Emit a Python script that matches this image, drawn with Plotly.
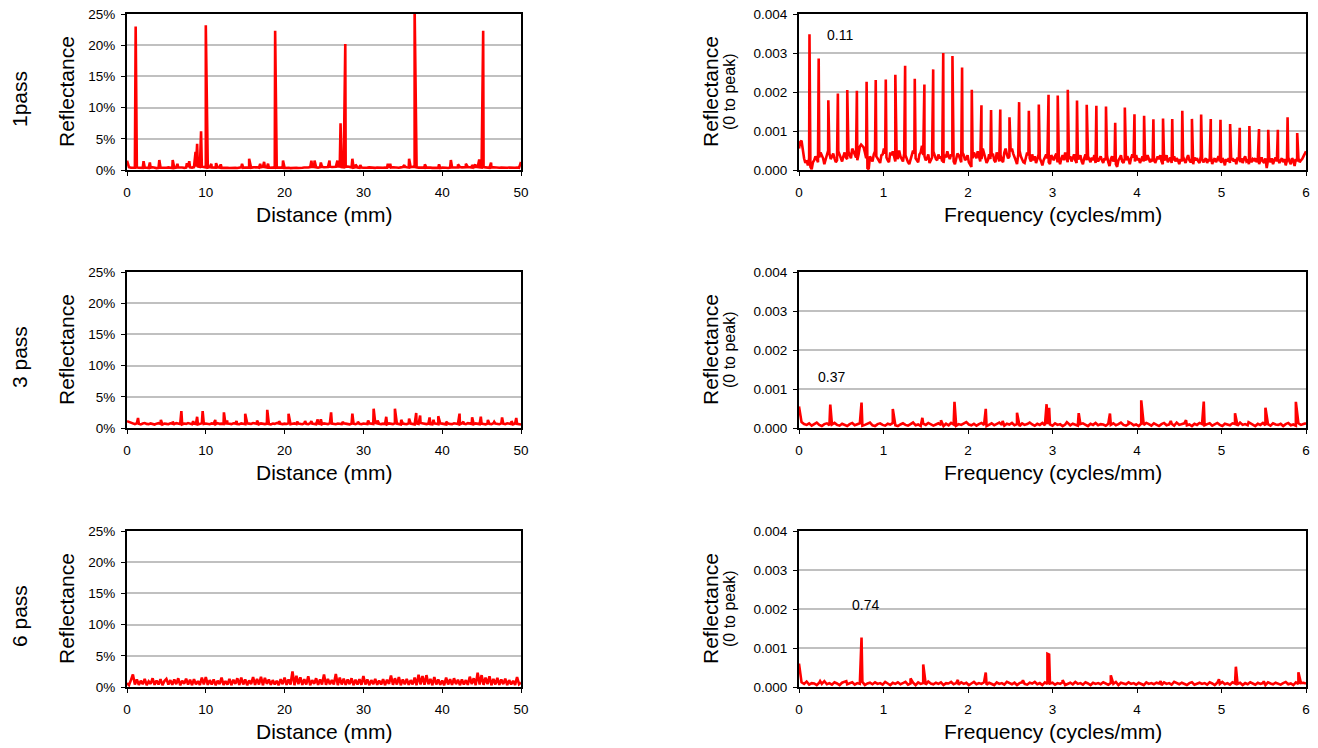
import plotly.graph_objects as go

# ---------------- data ----------------
DIST_STEP = 0.25    # mm between noise-floor samples (left panels)
FREQ_STEP = 0.03    # cycles/mm between noise-floor samples (3 and 6 pass spectra)
FREQ_STEP_1 = 0.015 # cycles/mm between noise-floor samples (1 pass spectrum)

# 1 pass, reflectance vs distance; floor in units of 0.01 %
p1_floor = [
    150, 45, 38, 32, 36, 42, 35, 30, 34, 40, 37, 33, 38, 44, 36, 31, 35, 41, 38, 33,
    36, 42, 38, 33, 31, 37, 41, 46, 39, 35, 40, 48, 43, 38, 46, 52, 56, 49, 53, 46,
    42, 38, 45, 40, 35, 38, 44, 39, 34, 37, 42, 36, 32, 35, 40, 37, 33, 38, 43, 36,
    40, 45, 38, 35, 42, 48, 44, 38, 43, 50, 46, 40, 37, 42, 39, 35, 38, 44, 40, 36,
    33, 38, 35, 31, 36, 41, 37, 33, 30, 35, 39, 34, 40, 46, 52, 48, 43, 38, 45, 50,
    44, 40, 47, 53, 49, 45, 52, 58, 54, 48, 44, 50, 55, 46, 42, 38, 44, 40, 36, 41,
    37, 33, 38, 42, 36, 32, 35, 39, 35, 31, 36, 40, 37, 33, 39, 43, 38, 34, 37, 42,
    46, 50, 44, 40, 45, 51, 47, 42, 38, 43, 39, 35, 40, 44, 38, 34, 37, 41, 36, 33,
    38, 42, 37, 33, 39, 44, 40, 36, 41, 46, 42, 38, 44, 49, 45, 41, 47, 52, 48, 44,
    40, 46, 42, 38, 35, 40, 44, 38, 34, 37, 41, 36, 32, 36, 40, 35, 31, 35, 39, 34,
    130]
p1_peak_x = [1.1, 2.1, 2.9, 4.1, 5.8, 6.4, 7.6, 7.9, 8.7, 8.9, 9.4, 10.0, 10.7, 11.3,
             11.9, 14.6, 15.5, 16.9, 17.4, 17.9, 18.8, 19.8, 23.4, 23.8, 24.6, 25.7,
             26.7, 27.1, 27.7, 28.6, 29.0, 29.6, 33.1, 33.4, 35.2, 35.8, 36.5, 37.8,
             39.6, 41.1, 42.0, 43.0, 43.8, 44.2, 44.7, 45.2, 46.2]
p1_peak_y = [23.0, 1.4, 1.2, 1.6, 1.6, 1.0, 1.1, 1.4, 2.9, 4.2, 6.2, 23.2, 1.0, 1.1,
             0.9, 1.0, 1.8, 1.0, 1.3, 1.0, 22.3, 1.5, 1.5, 1.5, 1.2, 1.5,
             1.5, 7.5, 20.2, 1.8, 0.9, 0.8, 1.0, 1.0, 0.8, 1.8, 26.0, 0.9,
             0.9, 1.6, 0.9, 1.0, 0.8, 0.9, 1.7, 22.3, 1.2]

# 3 pass, reflectance vs distance; floor in units of 0.01 %
p3_floor = [
    110, 95, 80, 70, 62, 75, 68, 58, 72, 80, 66, 60, 74, 64, 56, 70, 78, 65, 58, 72,
    66, 60, 75, 68, 62, 78, 70, 64, 58, 72, 66, 80, 74, 62, 70, 64, 58, 68, 76, 66,
    72, 64, 60, 74, 68, 62, 78, 66, 70, 64, 58, 72, 68, 62, 76, 70, 64, 60, 74, 68,
    62, 76, 70, 64, 80, 72, 66, 60, 74, 68, 62, 70, 64, 58, 72, 66, 80, 74, 68, 62,
    70, 64, 76, 60, 68, 74, 62, 70, 66, 60, 74, 68, 62, 76, 70, 64, 58, 72, 66, 60,
    74, 68, 62, 78, 70, 64, 60, 72, 66, 62, 76, 70, 64, 58, 72, 68, 62, 74, 66, 60,
    72, 66, 62, 76, 70, 64, 80, 74, 68, 62, 70, 64, 60, 74, 68, 62, 76, 70, 64, 58,
    72, 66, 62, 76, 70, 64, 58, 72, 66, 80, 74, 68, 62, 70, 64, 60, 74, 68, 62, 76,
    70, 64, 58, 72, 66, 62, 76, 70, 64, 60, 74, 68, 62, 78, 72, 66, 60, 74, 68, 62,
    70, 64, 58, 72, 66, 62, 76, 70, 64, 60, 74, 68, 62, 76, 70, 64, 58, 72, 66, 62,
    55]
p3_peak_x = [1.4, 4.3, 5.8, 6.9, 8.4, 8.9, 9.6, 11.2, 12.3, 12.7, 13.9, 15.0, 16.5,
             17.8, 19.3, 20.5, 21.6, 22.6, 23.4, 24.2, 24.6, 25.9, 27.4, 28.6, 29.3,
             30.6, 31.3, 31.8, 32.9, 34.0, 34.8, 35.8, 36.7, 37.2, 38.4, 38.9, 39.5,
             40.5, 42.2, 42.7, 43.8, 44.9, 45.8, 46.6, 47.6, 48.8, 49.4]
p3_peak_y = [1.6, 1.3, 1.0, 2.7, 1.1, 1.8, 2.7, 1.3, 2.5, 1.2, 1.1, 2.3, 1.2,
             2.9, 1.1, 2.3, 1.0, 1.1, 1.1, 1.4, 1.4, 2.5, 1.0, 2.3, 1.0,
             1.2, 3.1, 1.2, 1.8, 3.1, 1.3, 1.5, 2.4, 2.0, 1.7, 1.3, 1.9,
             1.0, 2.3, 1.0, 1.7, 1.8, 1.3, 1.0, 1.7, 1.1, 1.6]

# 6 pass, reflectance vs distance; floor in units of 0.01 %
p6_floor = [
    60, 30, 110, 200, 40, 120, 35, 100, 45, 130, 30, 90, 50, 140, 35, 105, 40, 125, 30, 95,
    130, 40, 110, 35, 120, 45, 140, 30, 100, 50, 135, 40, 115, 30, 125, 45, 95, 35, 150, 40,
    160, 35, 110, 40, 120, 30, 100, 45, 150, 35, 95, 40, 130, 30, 115, 50, 140, 35, 150, 40,
    120, 30, 105, 45, 160, 35, 130, 40, 165, 30, 145, 50, 120, 35, 110, 40, 100, 30, 125, 45,
    150, 35, 120, 40, 250, 30, 180, 45, 155, 35, 125, 40, 170, 30, 110, 50, 140, 35, 120, 40,
    200, 35, 130, 45, 110, 40, 210, 30, 150, 40, 135, 35, 120, 45, 140, 30, 115, 40, 125, 35,
    175, 40, 120, 30, 110, 45, 130, 35, 105, 40, 125, 30, 115, 50, 185, 35, 140, 40, 160, 30,
    120, 45, 130, 35, 110, 40, 150, 30, 195, 40, 175, 35, 190, 45, 130, 30, 160, 40, 120, 35,
    105, 30, 150, 40, 125, 35, 140, 45, 115, 30, 120, 40, 110, 35, 165, 45, 140, 30, 230, 40,
    190, 35, 150, 45, 170, 30, 130, 40, 145, 35, 120, 45, 135, 30, 110, 40, 100, 35, 160, 45,
    70]
p6_peak_x = []
p6_peak_y = []

# 1 pass spectrum; floor in units of 1e-5, sampled every 0.015 cycles/mm
f1_floor = [
    55, 72, 75, 50, 30, 18, 25, 12, 30, 8, 2, 20, 25, 35, 28, 20, 32, 45, 38, 30,
    15, 28, 38, 50, 42, 28, 35, 42, 30, 20, 25, 48, 40, 30, 22, 35, 45, 32, 28, 48,
    38, 30, 55, 48, 40, 32, 25, 40, 60, 65, 62, 58, 45, 30, 5, 2, 35, 28, 22, 40,
    48, 35, 30, 22, 18, 38, 40, 55, 42, 32, 25, 20, 45, 38, 48, 30, 22, 40, 28, 50,
    35, 28, 22, 42, 38, 28, 20, 15, 30, 38, 50, 42, 30, 25, 20, 40, 45, 62, 38, 35,
    25, 30, 40, 18, 25, 32, 48, 38, 28, 25, 40, 30, 35, 22, 18, 40, 32, 48, 35, 28,
    40, 35, 22, 15, 30, 42, 38, 30, 20, 45, 38, 25, 30, 38, 20, 15, 8, 30, 45, 38,
    30, 48, 35, 22, 28, 55, 40, 30, 18, 25, 40, 28, 35, 42, 25, 20, 45, 30, 22, 38,
    25, 20, 45, 55, 40, 30, 35, 48, 55, 42, 30, 25, 15, 40, 50, 35, 28, 20, 18, 30,
    45, 38, 30, 22, 40, 25, 35, 18, 28, 40, 30, 22, 12, 25, 35, 40, 30, 20, 15, 38,
    30, 25, 35, 42, 20, 28, 15, 30, 38, 25, 45, 30, 20, 28, 35, 22, 30, 40, 25, 18,
    32, 28, 38, 22, 15, 30, 40, 25, 35, 28, 20, 32, 25, 38, 18, 30, 22, 28, 35, 25,
    18, 30, 25, 38, 20, 10, 28, 35, 22, 30, 15, 8, 25, 30, 38, 22, 18, 30, 25, 35,
    28, 15, 30, 40, 32, 22, 38, 25, 30, 18, 28, 35, 22, 30, 25, 38, 30, 20, 28, 22,
    30, 18, 25, 35, 28, 38, 22, 15, 30, 25, 38, 20, 28, 32, 18, 25, 35, 22, 30, 25,
    15, 28, 22, 35, 25, 18, 30, 38, 25, 20, 28, 15, 32, 25, 30, 22, 18, 35, 28, 20,
    25, 30, 18, 28, 22, 35, 15, 25, 30, 20, 28, 35, 22, 18, 30, 25, 12, 28, 22, 30,
    18, 25, 30, 22, 28, 15, 32, 25, 20, 30, 18, 28, 35, 22, 25, 15, 30, 20, 28, 25,
    30, 20, 28, 15, 25, 32, 22, 18, 30, 5, 25, 28, 20, 30, 15, 25, 32, 22, 28, 18,
    25, 30, 20, 28, 12, 25, 32, 22, 15, 30, 25, 10, 28, 22, 30, 20, 25, 28, 35, 40,
    48]
f1_peak_x = [0.124, 0.233, 0.347, 0.460, 0.571, 0.685, 0.800, 0.908, 1.027, 1.140,
             1.256, 1.370, 1.484, 1.588, 1.707, 1.816, 1.930, 2.045, 2.159, 2.273,
             2.382, 2.491, 2.605, 2.720, 2.838, 2.953, 3.062, 3.181, 3.290, 3.405,
             3.519, 3.633, 3.742, 3.856, 3.970, 4.084, 4.194, 4.308, 4.417, 4.536,
             4.650, 4.759, 4.873, 4.988, 5.102, 5.216, 5.330, 5.444, 5.553, 5.667,
             5.782, 5.896]
f1_peak_y = [3.48, 2.86, 1.79, 1.96, 2.05, 2.03, 2.26, 2.31, 2.32, 2.44,
             2.67, 2.34, 2.19, 2.58, 3.00, 2.92, 2.63, 2.06, 1.66, 1.54,
             1.55, 1.35, 1.74, 1.52, 1.68, 1.93, 1.91, 2.06, 1.78, 1.67,
             1.65, 1.63, 1.21, 1.60, 1.43, 1.39, 1.30, 1.32, 1.31, 1.52,
             1.31, 1.42, 1.31, 1.29, 1.18, 1.08, 1.13, 1.05, 1.03, 1.03,
             1.35, 0.95]   # units of 1e-3

# 3 pass spectrum; floor in units of 1e-5
f3_floor = [
    55, 15, 10, 8, 12, 6, 10, 14, 8, 5, 10, 12, 7, 9, 13, 8, 6, 11, 9, 5,
    10, 13, 7, 9, 12, 6, 8, 11, 14, 7, 5, 10, 12, 8, 6, 11, 9, 13, 7, 5,
    9, 12, 8, 6, 10, 14, 7, 9, 5, 11, 8, 13, 10, 6, 9, 12, 8, 5, 11, 7,
    13, 9, 6, 10, 8, 12, 15, 9, 7, 11, 6, 10, 13, 8, 5, 9, 12, 7, 10, 14,
    8, 6, 11, 9, 13, 7, 10, 5, 12, 8, 10, 14, 9, 6, 11, 8, 13, 7, 10, 9,
    6, 12, 8, 10, 5, 9, 13, 7, 11, 8, 6, 10, 12, 9, 5, 11, 8, 13, 7, 10,
    9, 6, 11, 8, 12, 7, 10, 14, 8, 6, 10, 12, 7, 9, 5, 11, 8, 13, 10, 6,
    12, 8, 5, 10, 13, 7, 9, 11, 6, 14, 8, 10, 12, 7, 9, 5, 11, 8, 13, 10,
    7, 10, 12, 6, 9, 13, 8, 5, 11, 9, 7, 12, 10, 6, 14, 8, 10, 7, 12, 9,
    5, 11, 8, 13, 7, 10, 6, 12, 9, 8, 11, 5, 10, 13, 7, 9, 6, 12, 8, 10,
    12]
f3_peak_x = [0.37, 0.74, 1.11, 1.46, 1.68, 1.84, 2.21, 2.41, 2.58, 2.93, 2.96, 3.17,
             3.31, 3.68, 3.90, 4.05, 4.40, 4.58, 4.79, 5.16, 5.32, 5.52, 5.88]
f3_peak_y = [0.60, 0.65, 0.49, 0.26, 0.20, 0.67, 0.49, 0.18, 0.39, 0.61, 0.52, 0.15,
             0.38, 0.37, 0.15, 0.71, 0.18, 0.20, 0.68, 0.38, 0.15, 0.52, 0.67]

# 6 pass spectrum; floor in units of 1e-5
f6_floor = [
    60, 12, 8, 14, 6, 10, 9, 5, 11, 8, 15, 7, 10, 6, 12, 9, 5, 11, 14, 7,
    9, 12, 6, 10, 8, 13, 5, 9, 11, 7, 12, 8, 10, 6, 13, 9, 5, 11, 8, 12,
    7, 10, 13, 6, 9, 11, 5, 12, 8, 10, 6, 14, 9, 7, 11, 8, 12, 5, 10, 9,
    13, 7, 10, 6, 12, 8, 11, 5, 9, 13, 7, 10, 8, 12, 6, 11, 9, 5, 12, 8,
    10, 6, 13, 9, 7, 11, 5, 10, 12, 8, 6, 11, 9, 13, 7, 10, 5, 12, 8, 9,
    11, 6, 10, 8, 12, 5, 9, 11, 7, 13, 8, 10, 6, 12, 9, 5, 11, 8, 10, 7,
    12, 9, 6, 10, 8, 13, 5, 11, 9, 7, 12, 8, 10, 6, 11, 9, 5, 12, 8, 10,
    7, 11, 9, 5, 12, 8, 10, 6, 13, 9, 7, 11, 8, 5, 10, 12, 6, 9, 11, 8,
    10, 6, 12, 9, 5, 11, 8, 13, 7, 10, 6, 12, 9, 8, 11, 5, 10, 7, 12, 9,
    6, 11, 8, 10, 5, 12, 9, 7, 11, 8, 6, 10, 13, 7, 9, 5, 12, 8, 10, 11,
    9]
f6_peak_x = [0.25, 0.56, 0.74, 1.32, 1.47, 1.88, 2.21, 2.65, 2.94, 2.96, 3.12, 3.69,
             4.28, 4.97, 5.17, 5.50, 5.91]
f6_peak_y = [0.15, 0.15, 1.27, 0.22, 0.58, 0.18, 0.37, 0.17, 0.85, 0.83, 0.18, 0.30,
             0.15, 0.20, 0.52, 0.15, 0.38]

row_labels = ["1pass", "3 pass", "6 pass"]
peak_labels = ["0.11", "0.37", "0.74"]
peak_label_pos = [(0.49, 0.00346), (0.39, 0.00131), (0.79, 0.0021)]
dist_ticks = [0, 10, 20, 30, 40, 50]
freq_ticks = [0, 1, 2, 3, 4, 5, 6]
refl_ticks = [0, 5, 10, 15, 20, 25]
refl_text = ["0%", "5%", "10%", "15%", "20%", "25%"]
spec_ticks = [0.0, 0.001, 0.002, 0.003, 0.004]


def build(floor, floor_scale, step, px, py, peak_scale):
    pts = [(i * step, v * floor_scale) for i, v in enumerate(floor)]
    pts += [(x, y * peak_scale) for x, y in zip(px, py)]
    pts.sort(key=lambda t: t[0])
    return [p[0] for p in pts], [p[1] for p in pts]


left = [(p1_floor, p1_peak_x, p1_peak_y), (p3_floor, p3_peak_x, p3_peak_y),
        (p6_floor, p6_peak_x, p6_peak_y)]
right = [(f1_floor, f1_peak_x, f1_peak_y, FREQ_STEP_1),
         (f3_floor, f3_peak_x, f3_peak_y, FREQ_STEP),
         (f6_floor, f6_peak_x, f6_peak_y, FREQ_STEP)]

# ---------------- layout ----------------
W, H = 1318, 748
FONT = "Liberation Sans, Arial, sans-serif"
cols = [(127, 521), (799, 1306)]
rows = [(14, 170), (272, 428), (531, 687)]
RED = "#FF0000"
TICK = 13.5
TITLE = 21

fig = go.Figure()
layout = dict(width=W, height=H, margin=dict(l=0, r=0, t=0, b=0, pad=0),
              autosize=False,
              paper_bgcolor="white", plot_bgcolor="white", showlegend=False,
              font=dict(family=FONT, color="black", size=TICK))
annotations = []


def note(text, x, y, size, angle=0, xref="paper", yref="paper"):
    annotations.append(dict(text=text, x=x, y=y, xref=xref, yref=yref,
                            xanchor="center", yanchor="middle", textangle=angle,
                            showarrow=False, font=dict(size=size, family=FONT,
                                                       color="black")))


for r in range(3):
    for c in range(2):
        k = r * 2 + c + 1
        sfx = "" if k == 1 else str(k)
        if c == 0:
            fl, px, py = left[r]
            xs, ys = build(fl, 0.01, DIST_STEP, px, py, 1.0)
        else:
            fl, px, py, st = right[r]
            xs, ys = build(fl, 1e-5, st, px, py, 1e-3)
        fig.add_trace(go.Scatter(x=xs, y=ys, mode="lines",
                                 line=dict(color=RED, width=2.6),
                                 xaxis="x" + sfx, yaxis="y" + sfx,
                                 hoverinfo="skip"))
        x0, x1 = cols[c]
        y0, y1 = rows[r]
        common = dict(showline=True, linecolor="black", linewidth=2, mirror=True,
                      ticks="outside", ticklen=4, tickwidth=1, tickcolor="black",
                      zeroline=False, automargin=False,
                      tickfont=dict(size=TICK, family=FONT, color="black"))
        xa = dict(common, domain=[x0 / W, x1 / W], anchor="y" + sfx, showgrid=False,
                  ticklabelstandoff=5)
        ya = dict(common, domain=[1 - y1 / H, 1 - y0 / H], anchor="x" + sfx,
                  showgrid=True, gridcolor="#C0C0C0", gridwidth=2,
                  ticklabelstandoff=3)
        if c == 0:
            xa.update(range=[0, 50], tickvals=dist_ticks)
            ya.update(range=[0, 25], tickvals=refl_ticks, ticktext=refl_text)
        else:
            xa.update(range=[0, 6], tickvals=freq_ticks)
            ya.update(range=[0, 0.004], tickvals=spec_ticks, tickformat=".3f")
        layout["xaxis" + sfx] = xa
        layout["yaxis" + sfx] = ya

        cx = (x0 + x1) / 2 / W
        cy = 1 - (y0 + y1) / 2 / H
        note("Distance (mm)" if c == 0 else "Frequency (cycles/mm)",
             cx, 1 - (y1 + 44) / H, TITLE)
        if c == 0:
            note("Reflectance", 66 / W, cy, TITLE, -90)
            note(row_labels[r], 19 / W, cy - 7 / H, TITLE, -90)
        else:
            note("Reflectance", 710 / W, cy, TITLE, -90)
            note("(0 to peak)", 729 / W, cy, 16, -90)
            lx, ly = peak_label_pos[r]
            note(peak_labels[r], lx, ly, 14, 0, "x" + sfx, "y" + sfx)

layout["annotations"] = annotations
fig.update_layout(**layout)
fig.write_html("out.html",
               post_script="document.body.style.margin='0';document.body.style.overflow='hidden';")
